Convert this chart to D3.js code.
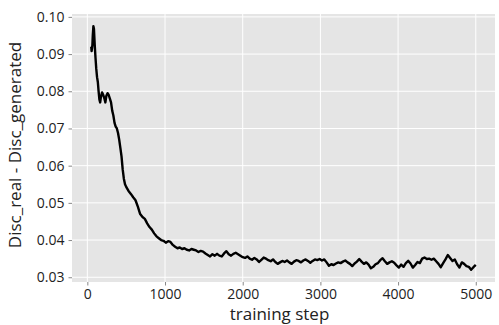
<!DOCTYPE html>
<html>
<head>
<meta charset="utf-8">
<script src="https://cdn.jsdelivr.net/npm/d3@7"></script>
<style>
  body { margin: 0; background: #fff; }
  svg { display: block; font-family: "Open Sans", "Noto Sans", sans-serif; }
</style>
</head>
<body>
<div id="chart"></div>
<script>
// training steps and the discriminator gap
var steps = [50, 55, 60, 65, 70, 78, 85, 95, 105, 115, 125, 135, 145, 155, 165, 175, 190, 205, 220, 232,
  245, 260, 275, 290, 305, 320, 335, 350, 365, 380, 395, 410, 425, 440, 455, 470, 485, 500,
  530, 560, 590, 620, 650, 680, 710, 740, 770, 800, 830, 860, 890, 920, 950, 980, 1010, 1040,
  1070, 1100, 1130, 1160, 1190, 1220, 1250, 1280, 1310, 1340, 1370, 1400, 1430, 1460, 1490,
  1520, 1550, 1580, 1610, 1640, 1670, 1700, 1730, 1760, 1790, 1820, 1850, 1880, 1910, 1940,
  1970, 2000, 2030, 2060, 2090, 2120, 2150, 2180, 2210, 2240, 2270, 2300, 2330, 2360, 2390,
  2420, 2450, 2480, 2510, 2540, 2570, 2600, 2630, 2660, 2690, 2720, 2750, 2780, 2810, 2840,
  2870, 2900, 2930, 2960, 2990, 3020, 3050, 3080, 3110, 3140, 3170, 3200, 3230, 3260, 3290,
  3320, 3350, 3380, 3410, 3440, 3470, 3500, 3530, 3560, 3590, 3620, 3650, 3680, 3710, 3740,
  3770, 3800, 3830, 3860, 3890, 3920, 3950, 3980, 4010, 4040, 4070, 4100, 4130, 4160, 4190,
  4220, 4250, 4280, 4310, 4340, 4370, 4400, 4430, 4460, 4490, 4520, 4550, 4580, 4610, 4640,
  4670, 4700, 4730, 4760, 4790, 4820, 4850, 4880, 4910, 4940, 4970, 5000];

var gap = [0.0920, 0.0908, 0.0915, 0.0925, 0.0950, 0.0975, 0.0968, 0.0925, 0.0890, 0.0860, 0.0838,
  0.0825, 0.0800, 0.0778, 0.0770, 0.0785, 0.0797, 0.0790, 0.0780, 0.0770,
  0.0788, 0.0795, 0.0790, 0.0780, 0.0770, 0.0748, 0.0735, 0.0715, 0.0705, 0.0700, 0.0688,
  0.0670, 0.0648, 0.0625, 0.0590, 0.0565, 0.0550, 0.0543,
  0.0532, 0.0524, 0.0515, 0.0507, 0.0490, 0.0470, 0.0462, 0.0457, 0.0445, 0.0435, 0.0428,
  0.0418, 0.0410, 0.0405, 0.0400, 0.0398, 0.0393, 0.0397,
  0.0395, 0.0387, 0.0382, 0.0378, 0.0380, 0.0376, 0.0378, 0.0374, 0.0372, 0.0376, 0.0374,
  0.0372, 0.0368, 0.0371, 0.0369,
  0.0364, 0.0360, 0.0356, 0.0362, 0.0358, 0.0363, 0.0358, 0.0356, 0.0364, 0.0370, 0.0362,
  0.0358, 0.0363, 0.0366, 0.0362,
  0.0358, 0.0354, 0.0352, 0.0356, 0.0350, 0.0347, 0.0352, 0.0348, 0.0341, 0.0347, 0.0353,
  0.0350, 0.0346, 0.0343, 0.0348,
  0.0341, 0.0336, 0.0340, 0.0344, 0.0341, 0.0345, 0.0340, 0.0336, 0.0342, 0.0346, 0.0344,
  0.0340, 0.0345, 0.0348, 0.0344,
  0.0339, 0.0344, 0.0348, 0.0346, 0.0349, 0.0345, 0.0348, 0.0340, 0.0331, 0.0335, 0.0333,
  0.0337, 0.0340, 0.0338, 0.0342,
  0.0345, 0.0340, 0.0336, 0.0330, 0.0337, 0.0342, 0.0349, 0.0342, 0.0336, 0.0340, 0.0334,
  0.0324, 0.0328, 0.0335, 0.0338,
  0.0346, 0.0351, 0.0343, 0.0336, 0.0340, 0.0343, 0.0339, 0.0332, 0.0326, 0.0334, 0.0328,
  0.0338, 0.0344, 0.0337, 0.0326,
  0.0333, 0.0341, 0.0338, 0.0350, 0.0353, 0.0349, 0.0350, 0.0347, 0.0350, 0.0343, 0.0336,
  0.0327, 0.0338, 0.0348, 0.0360,
  0.0352, 0.0344, 0.0348, 0.0335, 0.0326, 0.0340, 0.0336, 0.0330, 0.0328, 0.0320, 0.0327, 0.0333];

var xTicks = [0, 1000, 2000, 3000, 4000, 5000];
var yTicks = [0.03, 0.04, 0.05, 0.06, 0.07, 0.08, 0.09, 0.10];

var svgWidth = 499, svgHeight = 325;
var margin = {top: 14, right: 4, bottom: 43, left: 72};
var chartWidth = svgWidth - margin.left - margin.right;
var chartHeight = svgHeight - margin.top - margin.bottom;

var data = steps.map(function(s, i) { return {step: s, gap: gap[i]}; });

var svg = d3.select("#chart")
  .append("svg")
  .attr("width", svgWidth)
  .attr("height", svgHeight);

var chartGroup = svg.append("g")
  .attr("transform", `translate(${margin.left}, ${margin.top})`);

// matplotlib style 5% padding around the data
var xPad = (5000 - 50) * 0.05;
var x = d3.scaleLinear()
  .domain([50 - xPad, 5000 + xPad])
  .range([0, chartWidth]);

var yPad = (0.0975 - 0.0320) * 0.05;
var y = d3.scaleLinear()
  .domain([0.0320 - yPad, 0.0975 + yPad])
  .range([chartHeight, 0]);

// grey panel
chartGroup.append("rect")
  .attr("width", chartWidth)
  .attr("height", chartHeight)
  .attr("fill", "#e5e5e5");

// white grid
chartGroup.append("g")
  .selectAll("line")
  .data(xTicks)
  .enter()
  .append("line")
  .attr("x1", d => x(d)).attr("x2", d => x(d))
  .attr("y1", 0).attr("y2", chartHeight)
  .attr("stroke", "#fff")
  .attr("stroke-width", 1);

chartGroup.append("g")
  .selectAll("line")
  .data(yTicks)
  .enter()
  .append("line")
  .attr("x1", 0).attr("x2", chartWidth)
  .attr("y1", d => y(d)).attr("y2", d => y(d))
  .attr("stroke", "#fff")
  .attr("stroke-width", 1);

// axes
var bottomAxis = d3.axisBottom(x).tickValues(xTicks).tickSize(3.5).tickPadding(4).tickFormat(d3.format("d"));
var leftAxis = d3.axisLeft(y).tickValues(yTicks).tickSize(3.5).tickPadding(4).tickFormat(d3.format(".2f"));

var gx = chartGroup.append("g")
  .attr("transform", `translate(0, ${chartHeight})`)
  .call(bottomAxis);
var gy = chartGroup.append("g")
  .call(leftAxis);

[gx, gy].forEach(function(g) {
  g.select(".domain").remove();
  g.selectAll(".tick line").attr("stroke", "#888");
  g.selectAll(".tick text")
    .style("font-size", "14px")
    .style("fill", "#222")
    .style("font-family", "'Open Sans', sans-serif");
});

// the curve
var line = d3.line()
  .x(d => x(d.step))
  .y(d => y(d.gap));

chartGroup.append("path")
  .datum(data)
  .attr("d", line)
  .attr("fill", "none")
  .attr("stroke", "#000")
  .attr("stroke-width", 2.4)
  .attr("stroke-linejoin", "round");

// labels
chartGroup.append("text")
  .attr("x", chartWidth / 2 - 4)
  .attr("y", chartHeight + 38)
  .attr("text-anchor", "middle")
  .style("font-size", "17px")
  .style("fill", "#222")
  .text("training step");

chartGroup.append("text")
  .attr("transform", `translate(${-51}, ${chartHeight / 2 - 3}) rotate(-90)`)
  .attr("text-anchor", "middle")
  .style("font-size", "17px")
  .style("fill", "#222")
  .text("Disc_real - Disc_generated");
</script>
</body>
</html>
